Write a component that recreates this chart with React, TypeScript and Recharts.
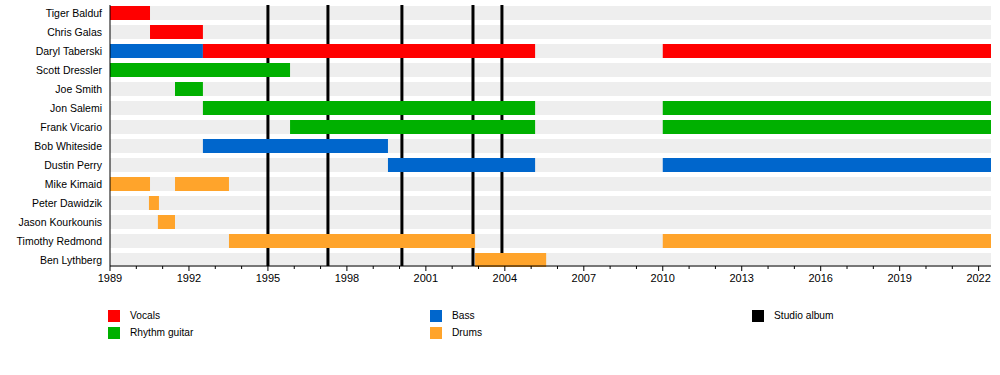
import React from 'react';
import { BarChart, Bar, XAxis, YAxis, Cell, ReferenceLine, Legend } from 'recharts';

const START = 1989;
const END = 2022.47;

const members = [
  'Tiger Balduf', 'Chris Galas', 'Daryl Taberski', 'Scott Dressler', 'Joe Smith',
  'Jon Salemi', 'Frank Vicario', 'Bob Whiteside', 'Dustin Perry', 'Mike Kimaid',
  'Peter Dawidzik', 'Jason Kourkounis', 'Timothy Redmond', 'Ben Lythberg',
];

const roles = ['Vocals', 'Rhythm guitar', 'Bass', 'Drums'];
const roleColors: Record<string, string> = {
  Vocals: '#ff0000',
  'Rhythm guitar': '#00b000',
  Bass: '#0066cc',
  Drums: '#ffa42b',
};

// [member, role, start, end]
const stints: [string, string, number, number][] = [
  ['Tiger Balduf', 'Vocals', 1989, 1990.52],
  ['Chris Galas', 'Vocals', 1990.52, 1992.53],
  ['Daryl Taberski', 'Bass', 1989, 1992.53],
  ['Daryl Taberski', 'Vocals', 1992.53, 2005.15],
  ['Daryl Taberski', 'Vocals', 2010.0, END],
  ['Scott Dressler', 'Rhythm guitar', 1989, 1995.84],
  ['Joe Smith', 'Rhythm guitar', 1991.47, 1992.53],
  ['Jon Salemi', 'Rhythm guitar', 1992.53, 2005.15],
  ['Jon Salemi', 'Rhythm guitar', 2010.0, END],
  ['Frank Vicario', 'Rhythm guitar', 1995.84, 2005.15],
  ['Frank Vicario', 'Rhythm guitar', 2010.0, END],
  ['Bob Whiteside', 'Bass', 1992.53, 1999.56],
  ['Dustin Perry', 'Bass', 1999.56, 2005.15],
  ['Dustin Perry', 'Bass', 2010.0, END],
  ['Mike Kimaid', 'Drums', 1989, 1990.52],
  ['Mike Kimaid', 'Drums', 1991.47, 1993.52],
  ['Peter Dawidzik', 'Drums', 1990.48, 1990.86],
  ['Jason Kourkounis', 'Drums', 1990.82, 1991.47],
  ['Timothy Redmond', 'Drums', 1993.52, 2002.87],
  ['Timothy Redmond', 'Drums', 2010.0, END],
  ['Ben Lythberg', 'Drums', 2002.87, 2005.57],
];

const studioAlbums = [1995.0, 1997.28, 2000.09, 2002.79, 2003.89];

const years: number[] = [];
for (let y = 1989; y <= 2022; y++) years.push(y);

const SEGMENTS = 3;

const table = members.map((name) => {
  const row: any = { name };
  const mine = stints.filter((s) => s[0] === name);
  mine.forEach((s, i) => {
    row['s' + i] = [s[2], s[3]];
    row['r' + i] = s[1];
  });
  return row;
});

const FONT = '"Liberation Sans", Arial, sans-serif';

const XTick = (props: any) => {
  const { x, y, payload } = props;
  const v = payload.value;
  const major = (v - 1989) % 3 === 0;
  return (
    <g>
      <line x1={x} y1={y} x2={x} y2={y + (major ? 5 : 3)} stroke="#000" strokeWidth={1} />
      {major && (
        <text x={x} y={y + 16} textAnchor="middle" fontSize={11} fontFamily={FONT} fill="#000">
          {v}
        </text>
      )}
    </g>
  );
};

const YTick = (props: any) => {
  const { x, y, payload } = props;
  return (
    <text x={x} y={y} dy={4} textAnchor="end" fontSize={10.5} fontFamily={FONT} fill="#000">
      {payload.value}
    </text>
  );
};

const legendItems: [string, string, number, number][] = [
  ['Vocals', roleColors.Vocals, 0, 0],
  ['Rhythm guitar', roleColors['Rhythm guitar'], 0, 1],
  ['Bass', roleColors.Bass, 1, 0],
  ['Drums', roleColors.Drums, 1, 1],
  ['Studio album', '#000000', 2, 0],
];

const LegendContent = () => (
  <div style={{ position: 'relative', width: 1000, height: 40, fontFamily: FONT, fontSize: 10.2 }}>
    {legendItems.map(([label, color, col, row]) => (
      <div
        key={label}
        style={{ position: 'absolute', left: 108 + col * 322, top: row * 17, height: 13, display: 'flex', alignItems: 'center' }}
      >
        <div style={{ width: 12, height: 12, background: color }} />
        <span style={{ marginLeft: 10, color: '#000', whiteSpace: 'nowrap' }}>{label}</span>
      </div>
    ))}
  </div>
);

export default function App() {
  return (
    <div style={{ position: 'absolute', left: 0, top: 0, width: 1000, height: 375, background: '#fff' }}>
      <BarChart
        width={1000}
        height={375}
        data={table}
        layout="vertical"
        margin={{ top: 5, right: 9, left: 0, bottom: 79 }}
        barGap={-14}
      >
        <XAxis
          type="number"
          domain={[START, END]}
          ticks={years}
          interval={0}
          allowDataOverflow
          tickSize={0}
          tickMargin={0}
          tick={<XTick />}
          axisLine={{ stroke: '#000' }}
          height={30}
        />
        <YAxis
          type="category"
          dataKey="name"
          width={110}
          interval={0}
          tickLine={false}
          tickSize={0}
          tickMargin={8}
          axisLine={{ stroke: '#000' }}
          padding={{ top: -2, bottom: -3 }}
          tick={<YTick />}
        />
        <Bar dataKey="s0" barSize={14} fill="transparent" background={{ fill: '#eeeeee' }} isAnimationActive={false} />
        {studioAlbums.map((a) => (
          <ReferenceLine key={a} x={a} stroke="#000" strokeWidth={3} zIndex={250} />
        ))}
        {Array.from({ length: SEGMENTS }).map((_, k) => (
          <Bar key={k} dataKey={'s' + k} barSize={14} isAnimationActive={false}>
            {table.map((row, i) => (
              <Cell key={i} fill={row['r' + k] ? roleColors[row['r' + k]] : 'transparent'} />
            ))}
          </Bar>
        ))}
        <Legend
          layout="horizontal"
          verticalAlign="middle"
          align="center"
          wrapperStyle={{ left: 0, top: 309, width: 1000 }}
          content={<LegendContent />}
        />
      </BarChart>
    </div>
  );
}
